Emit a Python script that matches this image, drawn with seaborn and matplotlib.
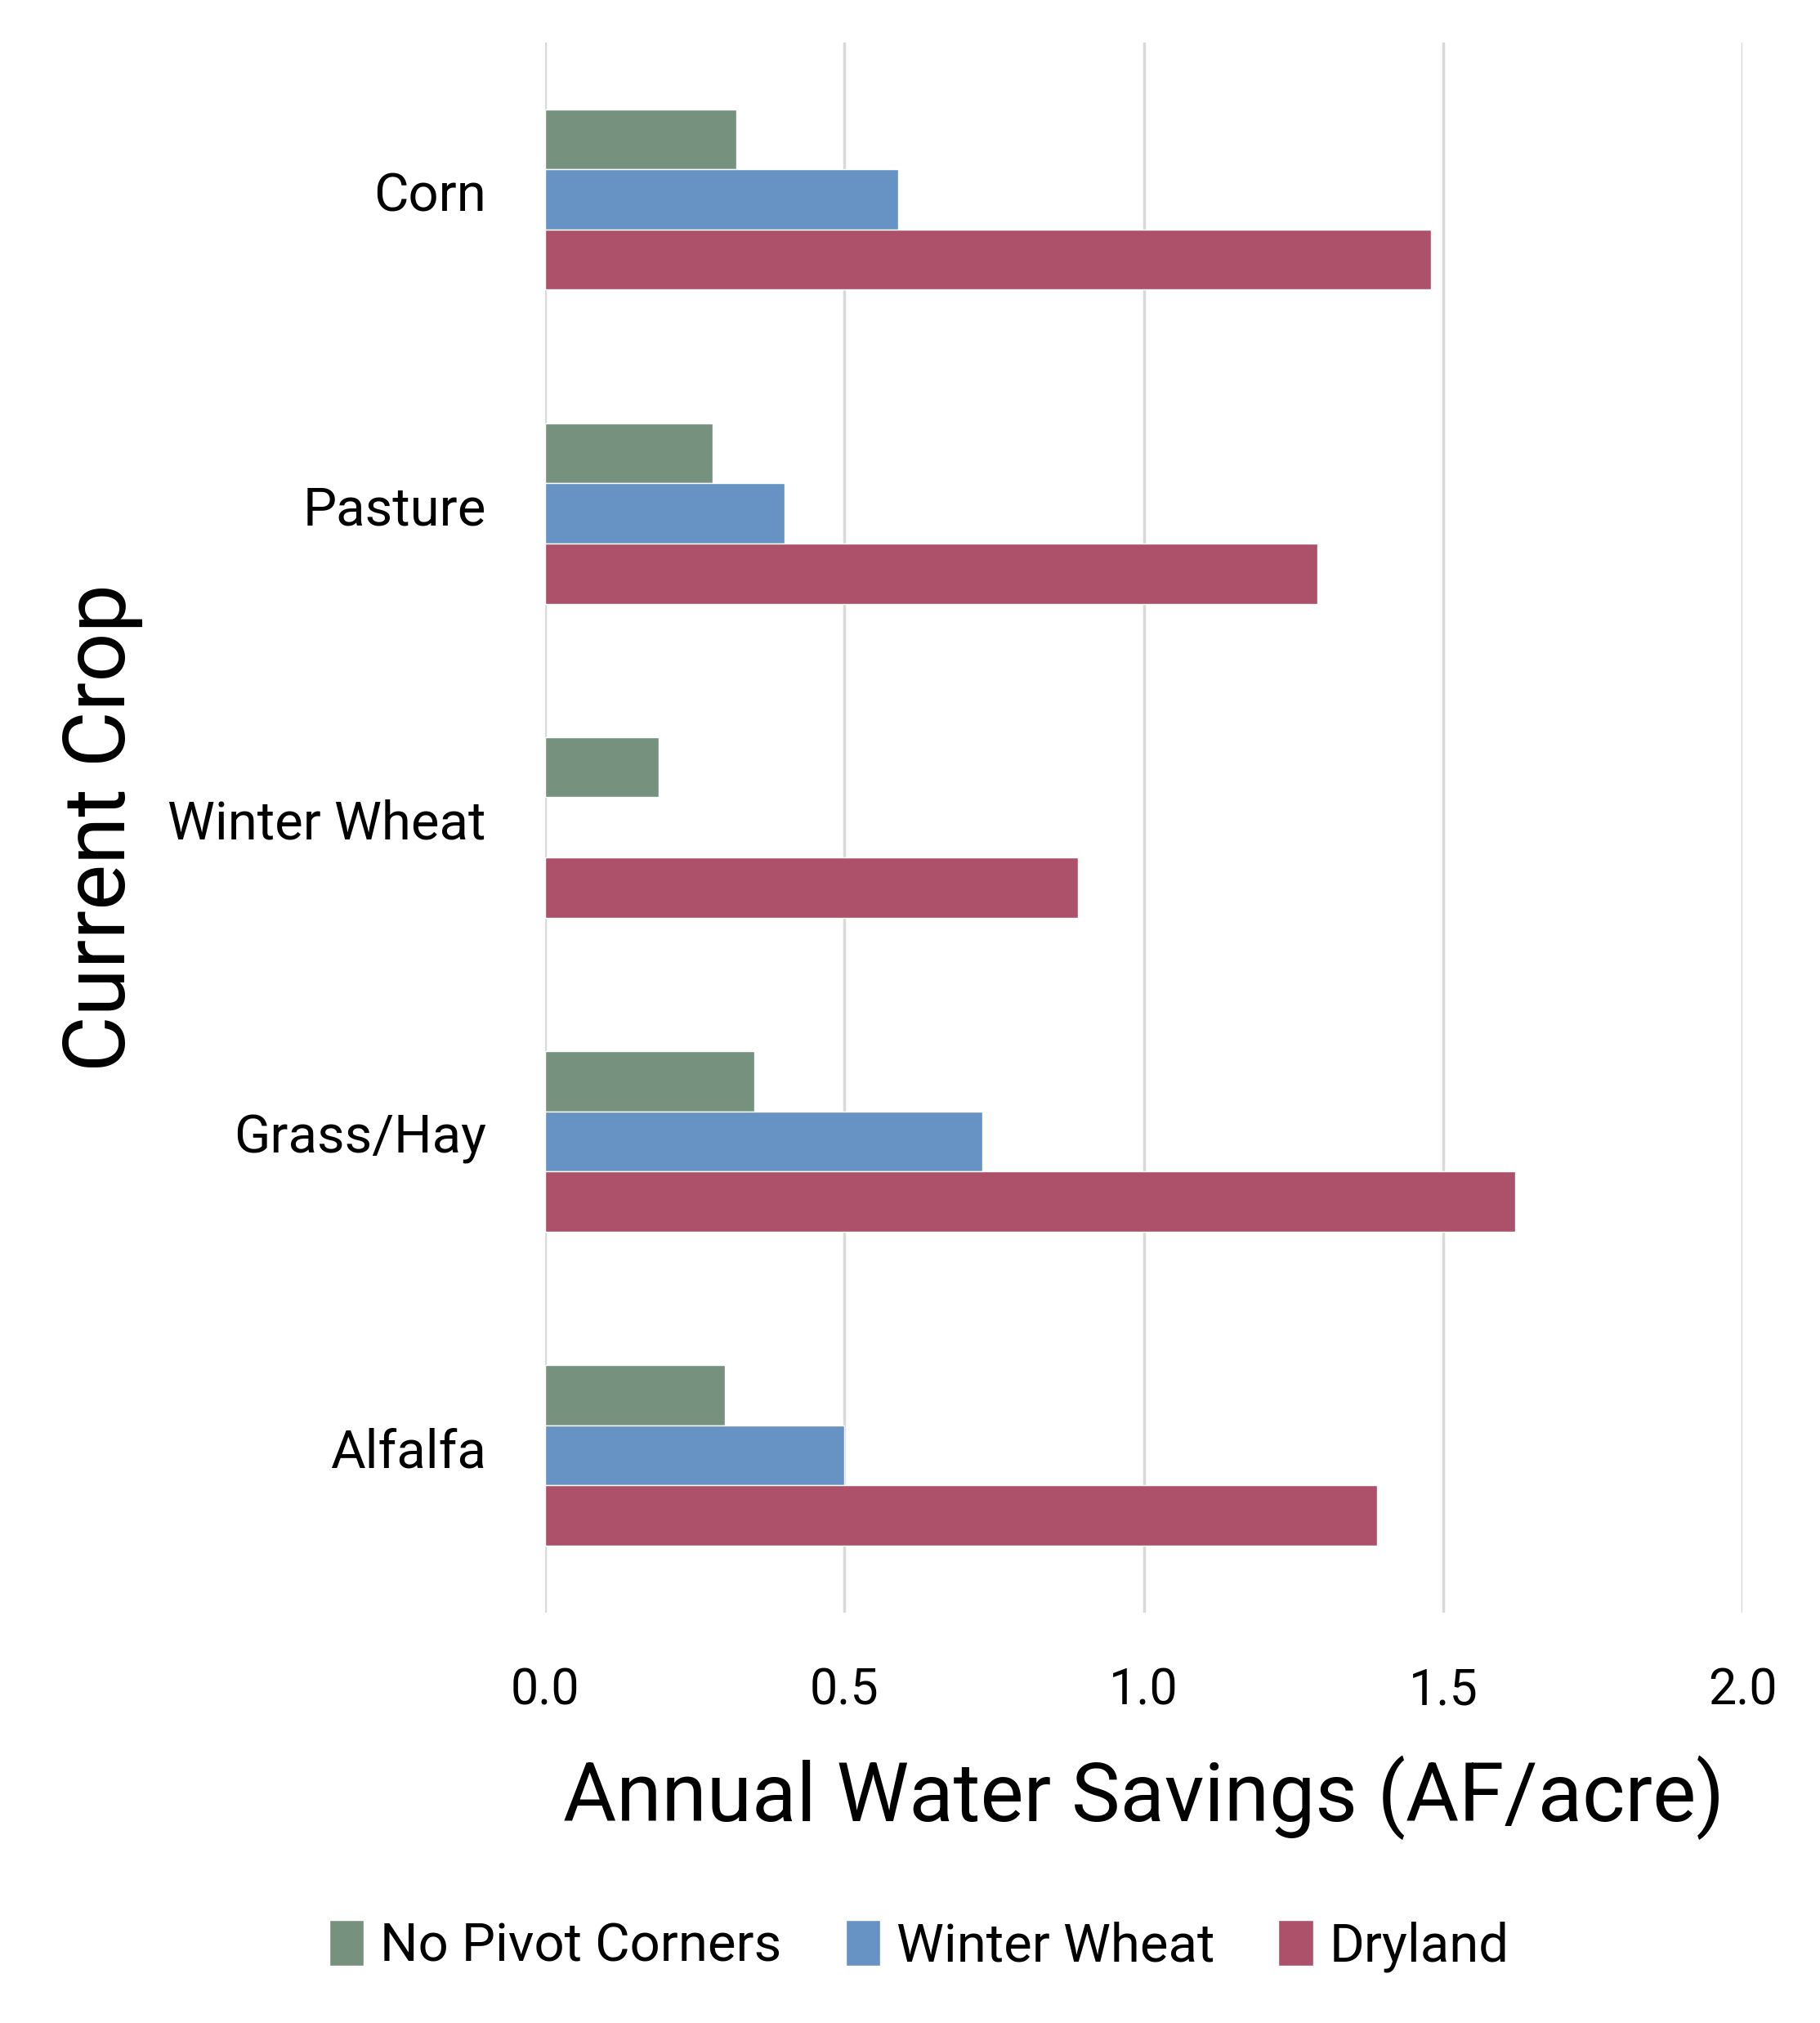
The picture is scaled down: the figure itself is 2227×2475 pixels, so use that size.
import matplotlib
matplotlib.use("Agg")
import matplotlib.pyplot as plt
import matplotlib.transforms as mtransforms
import seaborn as sns
import pandas as pd
import numpy as np

crops = ["Corn", "Pasture", "Winter Wheat", "Grass/Hay", "Alfalfa"]
series = ["No Pivot Corners", "Winter Wheat", "Dryland"]
no_pivot = [0.32, 0.28, 0.19, 0.35, 0.30]
winter_wheat = [0.59, 0.40, np.nan, 0.73, 0.50]
dryland = [1.48, 1.29, 0.89, 1.62, 1.39]
colors = ["#77917F", "#6693C4", "#AC5169"]
xticks = [0.0, 0.5, 1.0, 1.5, 2.0]

rows = []
for s, vals in zip(series, [no_pivot, winter_wheat, dryland]):
    for c, v in zip(crops, vals):
        rows.append({"crop": c, "series": s, "value": v})
df = pd.DataFrame(rows).dropna()

sns.set_theme(style="white")
plt.rcParams['font.family'] = ['Roboto', 'DejaVu Sans']
plt.rcParams['text.color'] = 'black'
plt.rcParams['axes.labelcolor'] = 'black'
plt.rcParams['xtick.color'] = 'black'
plt.rcParams['ytick.color'] = 'black'

fig = plt.figure(figsize=(22.27, 24.75), dpi=100)
ax = fig.add_axes([0.2995, 0.203, 0.9575 - 0.2995, 0.979 - 0.203])

sns.barplot(data=df, y="crop", x="value", hue="series", order=crops,
            hue_order=series, palette=colors, orient="h", width=0.575,
            saturation=1, ax=ax, legend=True)

ax.set_xlim(0, 2.0)
ax.set_ylim(4.5, -0.5)
ax.set_xticks(xticks)
ax.set_xticklabels([f"{t:.1f}" for t in xticks])
ax.grid(axis="x", color="#D9D9D9", linewidth=2.5)
ax.set_axisbelow(True)
for sp in ax.spines.values():
    sp.set_visible(False)
ax.tick_params(axis="y", length=0, pad=52, labelsize=47)
ax.tick_params(axis="x", length=0, pad=48, labelsize=44)
offset = mtransforms.ScaledTranslation(0, 0.10, fig.dpi_scale_trans)
for lbl in ax.get_yticklabels():
    lbl.set_transform(lbl.get_transform() + offset)
ax.set_xlabel("Annual Water Savings (AF/acre)", fontsize=72, labelpad=36)
ax.set_ylabel("Current Crop", fontsize=76, labelpad=22)

handles, labels = ax.get_legend_handles_labels()
ax.legend_.remove()
fig.legend(handles, labels, loc="center", bbox_to_anchor=(0.505, 0.038),
           ncol=3, frameon=False, fontsize=47, handlelength=0.65,
           handleheight=0.95, handletextpad=0.3, columnspacing=1.2)

fig.savefig("out.png", dpi=100)
